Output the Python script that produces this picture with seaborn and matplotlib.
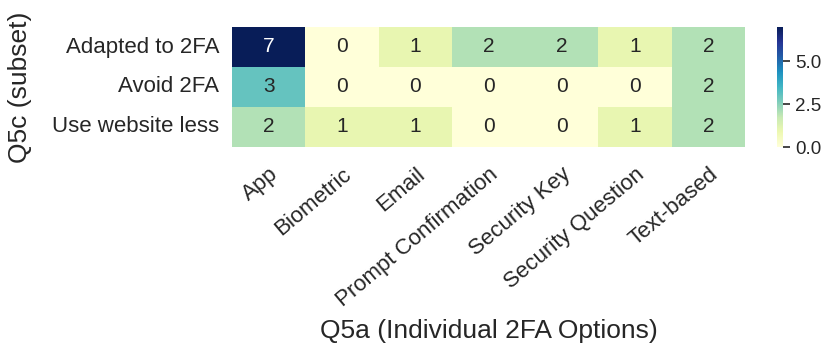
import pandas as pd
import seaborn as sns
import matplotlib.pyplot as plt

# Q5c subset vs individual 2FA options (counts)
rows = ['Adapted to 2FA', 'Avoid 2FA', 'Use website less']
cols = ['App', 'Biometric', 'Email', 'Prompt Confirmation',
        'Security Key', 'Security Question', 'Text-based']
adapted = [7, 0, 1, 2, 2, 1, 2]
avoid = [3, 0, 0, 0, 0, 0, 2]
less = [2, 1, 1, 0, 0, 1, 2]

counts = pd.DataFrame([adapted, avoid, less], index=rows, columns=cols)

sns.set_theme(style='white')
plt.rcParams['font.family'] = ['Liberation Sans', 'DejaVu Sans']

fig = plt.figure(figsize=(8.31, 3.59), dpi=100)
ax = fig.add_axes([232 / 831, 1 - 147 / 359, 513 / 831, 120 / 359])
cax = fig.add_axes([777 / 831, 1 - 147 / 359, 6 / 831, 120 / 359])

sns.heatmap(counts, annot=True, fmt='d', cmap='YlGnBu', ax=ax, cbar_ax=cax,
            annot_kws={'fontsize': 15})

ax.set_xticklabels(ax.get_xticklabels(), rotation=40, ha='right',
                   rotation_mode='anchor', fontsize=16)
ax.set_yticklabels(ax.get_yticklabels(), rotation=0, fontsize=16)
ax.tick_params(axis='y', length=0, pad=9)
ax.tick_params(axis='x', length=0, pad=12)
ax.set_xlabel('Q5a (Individual 2FA Options)', fontsize=19, labelpad=6)
ax.set_ylabel('Q5c (subset)', fontsize=19, labelpad=15)

cax.tick_params(labelsize=13.5, length=5, width=1.2, left=False, right=True)
cax.set_yticks([0.0, 2.5, 5.0])
cax.set_yticklabels(['0.0', '2.5', '5.0'])

fig.savefig('out.png', dpi=100)
